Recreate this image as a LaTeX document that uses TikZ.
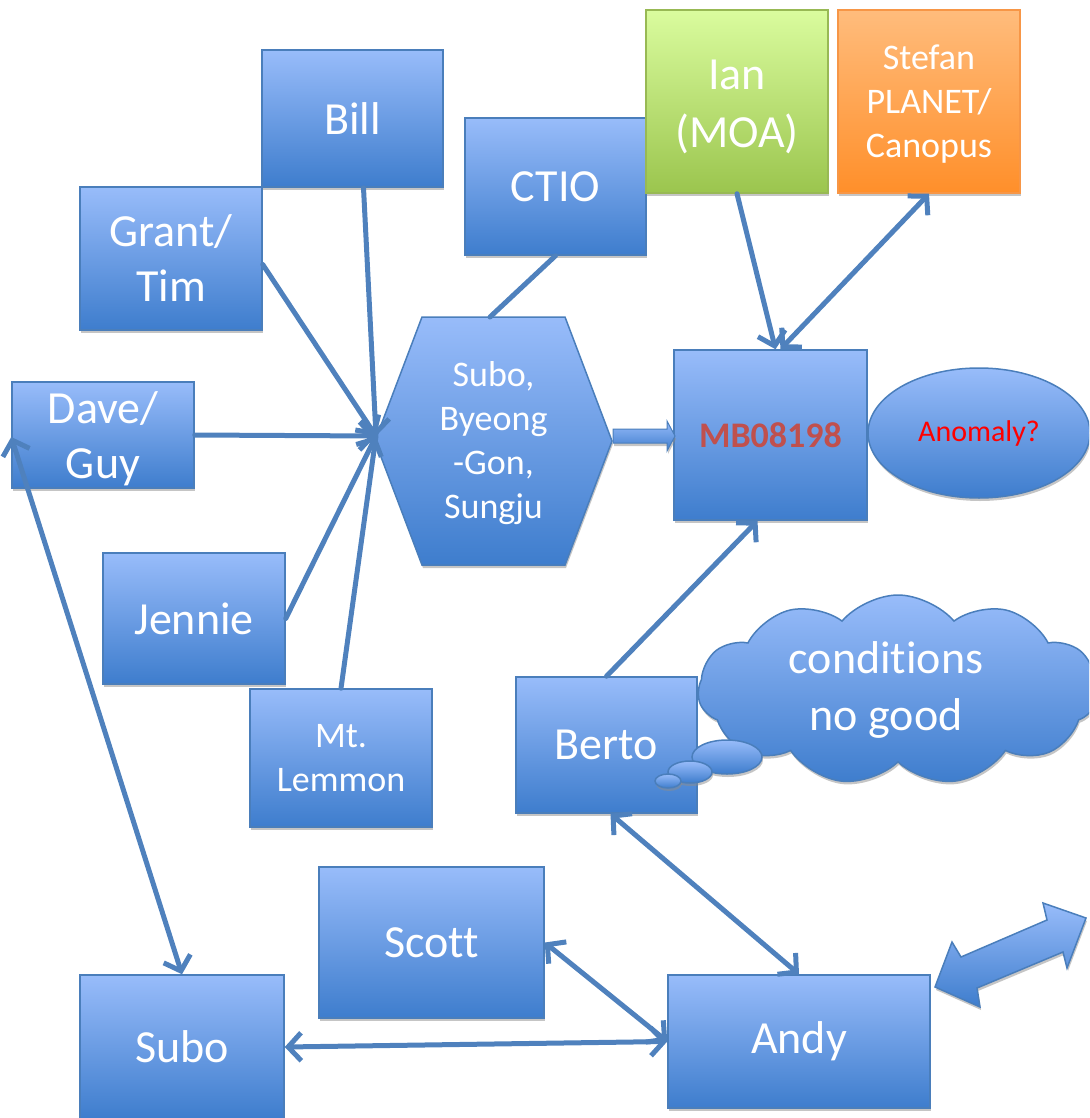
\documentclass[tikz,border=0pt]{standalone}
\usepackage{fontspec}
\setmainfont{Carlito}[Ligatures={NoCommon}]
\usetikzlibrary{arrows.meta,shapes.geometric,shapes.symbols,shadows}
\definecolor{btop}{RGB}{152,188,250}
\definecolor{bbot}{RGB}{62,125,205}
\definecolor{bord}{RGB}{74,126,187}
\definecolor{lc}{RGB}{79,129,189}
\definecolor{gtop}{RGB}{218,252,158}
\definecolor{gbot}{RGB}{155,197,78}
\definecolor{gbord}{RGB}{152,185,84}
\definecolor{otop}{RGB}{255,188,124}
\definecolor{obot}{RGB}{255,143,42}
\definecolor{obord}{RGB}{247,150,70}
\definecolor{mbred}{RGB}{192,80,77}
\tikzset{
  shad/.style={drop shadow={shadow xshift=1pt,shadow yshift=-3pt,fill=black!45,opacity=0.5}},
  bluefill/.style={top color=btop,bottom color=bbot,draw=bord,line width=1.5pt},
  box/.style={rectangle,bluefill,shad,text=white,align=center,inner sep=0pt,
    font=\fontsize{46}{55}\selectfont},
  midtext/.style={font=\fontsize{36}{44}\selectfont},
  conn/.style={draw=lc,line width=5pt,line cap=round},
  arr/.style={conn,-{Straight Barb[length=13pt,width=28pt]}},
  darr/.style={conn,{Straight Barb[length=13pt,width=28pt]}-{Straight Barb[length=13pt,width=28pt]}}
}
\begin{document}
\begin{tikzpicture}[x=1pt,y=-1pt]
\useasboundingbox (0,0) rectangle (1089,1118);
\clip (0,0) rectangle (1089,1118);

% boxes
\node[box,minimum width=181pt,minimum height=137pt] (bill) at (352.5,118.5) {Bill};
\node[box,minimum width=182pt,minimum height=143pt] (grant) at (171,258.5) {Grant/\\Tim};
\node[box,minimum width=181pt,minimum height=137pt] (ctio) at (555.5,186.5) {CTIO};
\node[box,minimum width=182pt,minimum height=183pt,top color=gtop,bottom color=gbot,draw=gbord] (ian) at (737,101.5) {};
\node[text=white,align=center,font=\fontsize{46}{58}\selectfont] (iantext) at (737,107) {Ian\\(MOA)};
\node[box,midtext,minimum width=182pt,minimum height=183pt,top color=otop,bottom color=obot,draw=obord] (stefan) at (929,101.5) {};
\node[text=white,align=center,midtext] (stefantext) at (929,104) {Stefan\\PLANET/\\Canopus};
\node[box,minimum width=182pt,minimum height=106pt] (dave) at (103,435) {};
\node[text=white,align=center,font=\fontsize{46}{55}\selectfont] (davetext) at (103,439) {Dave/\\Guy};
\node[box,minimum width=182pt,minimum height=131pt] (jennie) at (194,618.5) {Jennie};
\node[box,midtext,minimum width=182pt,minimum height=138pt] (lemmon) at (341,758) {Mt.\\Lemmon};
\node[box,minimum width=193pt,minimum height=170pt,text=mbred,font=\fontsize{36}{44}\selectfont\bfseries] (mb) at (770.5,435) {MB08198};
\node[ellipse,bluefill,shad,minimum width=222pt,minimum height=130pt,inner sep=0pt,text=red,font=\fontsize{30}{36}\selectfont] (anom) at (979,433) {Anomaly?};
\node[box,minimum width=181pt,minimum height=136pt] (berto) at (606.5,745) {Berto};
\node[box,minimum width=225pt,minimum height=151pt] (scott) at (431.5,942.5) {Scott};
\node[box,minimum width=204pt,minimum height=144pt] (subo) at (182,1047) {Subo};
\node[box,minimum width=262pt,minimum height=133pt] (andy) at (799,1041.5) {Andy};

% hexagon
\path[bluefill,shad] (422,317) -- (565,317) -- (612,441) -- (565,565) -- (422,565) -- (375,441) -- cycle;
\node[text=white,align=center,midtext] (hex) at (493.5,443) {Subo,\\Byeong\\-Gon,\\Sungju};
\coordinate (hexW) at (376,436);
\coordinate (hexT) at (490,317);

% thought cloud
\node[cloud,cloud puffs=11,cloud puff arc=100,aspect=2.1,bluefill,shad,minimum width=400pt,minimum height=190pt,inner sep=0pt] (cloud) at (898,690) {};
\node[text=white,align=center,font=\fontsize{46}{57}\selectfont] (ctext) at (886,690) {conditions\\no good};
\node[ellipse,bluefill,shad,minimum width=70pt,minimum height=34pt,inner sep=0pt] (b1) at (727,757) {};
\node[ellipse,bluefill,shad,minimum width=44pt,minimum height=22pt,inner sep=0pt] (b2) at (690,772) {};
\node[ellipse,bluefill,shad,minimum width=26pt,minimum height=14pt,inner sep=0pt] (b3) at (668,781) {};

% block arrow hex -> mb
\path[bluefill,line width=1pt,shad] (613,429) -- (667,429) -- (667,421) -- (675,436) -- (667,451) -- (667,443) -- (613,443) -- cycle;

% block double arrow bottom right
\path[bluefill,shad] (935,987) -- (952,942) -- (961,957) -- (1047,920) -- (1043,903) -- (1086,918)
  -- (1067,968) -- (1063,952) -- (977,988) -- (980,1007) -- cycle;

% connectors
\draw[arr] ([xshift=11pt]bill.south) -- (hexW);
\draw[arr] ([yshift=-6pt]grant.east) -- (hexW);
\draw[arr] (dave.east) -- (hexW);
\draw[arr] (jennie.east) -- (hexW);
\draw[conn] (lemmon.north) -- (hexW);
\draw[conn] (ctio.south) -- (hexT);
\draw[arr] (ian.south) -- ([xshift=5pt]mb.north);
\draw[darr] ([xshift=10pt]mb.north) -- (stefan.south);
\draw[arr] (berto.north) -- ([xshift=-13pt]mb.south);
\draw[darr] ([yshift=-2pt]dave.west) -- (subo.north);
\draw[darr] ([xshift=4pt]berto.south) -- (andy.north);
\draw[darr] (scott.east) -- (andy.west);
\draw[darr] (subo.east) -- (andy.west);
\end{tikzpicture}
\end{document}
